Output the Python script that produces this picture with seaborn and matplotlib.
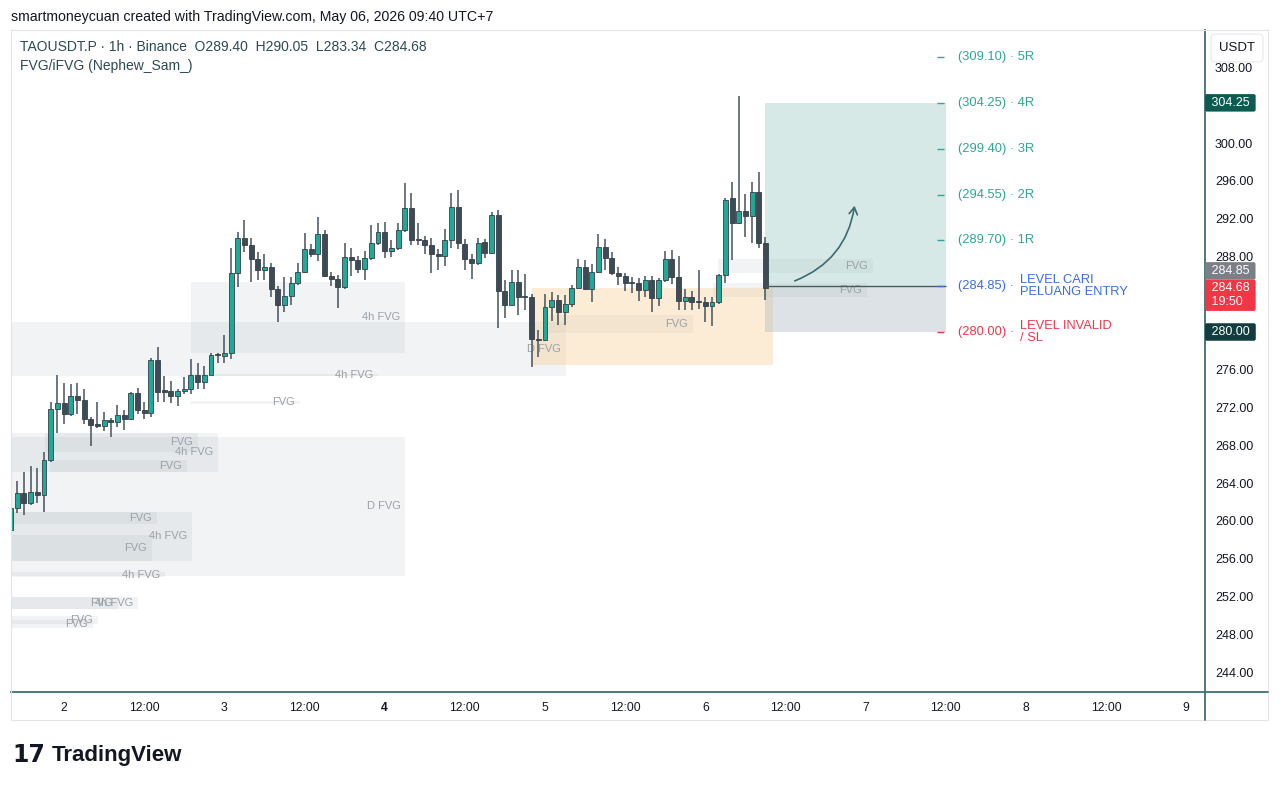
import numpy as np
import pandas as pd
import matplotlib
matplotlib.use("Agg")
import matplotlib.pyplot as plt
from matplotlib.patches import Rectangle, FancyArrowPatch
from matplotlib.lines import Line2D
import seaborn as sns

# 1h candles, hour 0 = May 2 00:00 (UTC+7)
hours = list(range(-8, 106))
opens = [259.0, 261.35, 263.0, 261.9, 263.1, 262.7, 266.5, 271.9, 272.5, 271.3,
         273.2, 272.8, 270.8, 270.2, 270.1, 270.7, 270.5, 271.2, 270.8, 273.5,
         271.75, 271.4, 277.0, 273.9, 273.8, 273.26, 273.75, 273.95, 275.45, 274.75,
         275.5, 277.6, 277.5, 277.75, 286.2, 289.9, 289.2, 287.7, 286.6, 286.9,
         284.6, 282.9, 283.8, 285.15, 286.3, 288.75, 288.25, 290.35, 285.9, 285.6,
         284.8, 287.9, 287.6, 286.7, 287.8, 289.45, 290.6, 288.6, 288.9, 290.8,
         293.1, 289.8, 289.7, 289.2, 288.3, 288.0, 289.7, 293.2, 289.3, 287.7,
         287.35, 289.55, 288.4, 292.4, 284.3, 282.85, 285.3, 283.7, 283.7, 279.3,
         279.1, 282.6, 283.4, 282.15, 282.96, 284.7, 286.9, 284.6, 286.3, 288.95,
         287.8, 286.2, 285.9, 285.2, 285.2, 284.45, 285.5, 283.55, 285.5, 287.7,
         285.85, 283.3, 283.7, 283.25, 283.2, 282.7, 283.2, 286.0, 294.15, 291.5,
         292.8, 292.3, 294.8, 289.40]
highs = [262.0, 264.2, 265.15, 265.8, 265.6, 267.3, 272.6, 275.45, 274.6, 274.5,
         274.6, 274.0, 271.0, 272.6, 271.5, 270.9, 272.3, 271.7, 273.7, 274.1,
         272.6, 277.2, 278.45, 275.3, 274.85, 274.0, 275.2, 277.1, 276.75, 276.4,
         277.75, 277.8, 279.7, 288.85, 290.6, 291.9, 289.9, 288.5, 288.25, 287.3,
         284.85, 285.8, 285.8, 287.3, 290.45, 289.3, 292.2, 290.8, 286.3, 286.0,
         289.45, 288.9, 288.0, 288.6, 291.3, 291.5, 291.6, 289.7, 291.55, 295.8,
         294.7, 291.55, 290.2, 289.9, 288.8, 290.85, 294.75, 295.0, 289.8, 288.3,
         290.0, 289.8, 292.65, 292.9, 285.5, 286.6, 286.6, 286.1, 284.0, 280.2,
         284.0, 284.2, 283.9, 283.9, 285.0, 287.7, 287.6, 287.2, 290.4, 289.8,
         288.5, 286.9, 286.2, 285.8, 285.7, 285.9, 285.9, 285.7, 288.6, 288.7,
         288.0, 284.5, 284.3, 286.55, 283.7, 283.7, 286.1, 294.2, 295.9, 305.0,
         294.6, 295.9, 296.9, 290.05]
lows = [258.5, 260.8, 260.6, 261.7, 261.9, 261.0, 266.2, 269.3, 270.3, 271.1,
        271.3, 270.3, 267.9, 269.8, 269.5, 268.9, 269.9, 269.6, 270.7, 271.3,
        270.8, 271.0, 272.6, 272.6, 272.45, 272.2, 273.4, 273.4, 274.0, 274.0,
        275.45, 276.75, 276.7, 277.1, 284.8, 288.5, 285.3, 285.5, 285.5, 283.7,
        281.1, 282.15, 282.85, 285.0, 286.2, 287.9, 287.5, 285.8, 284.85, 282.5,
        284.5, 285.9, 286.2, 285.5, 287.6, 289.2, 287.8, 287.9, 288.7, 290.6,
        289.2, 289.2, 288.3, 286.2, 286.55, 286.95, 288.9, 288.8, 286.6, 285.6,
        287.1, 287.8, 288.3, 280.4, 281.45, 282.7, 281.8, 282.3, 276.3, 277.4,
        279.0, 281.2, 280.7, 280.7, 282.6, 284.6, 284.45, 283.2, 286.2, 286.6,
        286.0, 284.97, 284.3, 284.1, 283.3, 283.7, 282.15, 282.8, 285.3, 285.1,
        282.3, 282.3, 282.3, 282.4, 281.1, 280.6, 283.0, 285.15, 287.6, 291.4,
        290.1, 289.4, 288.85, 283.34]
closes = [261.4, 263.0, 261.9, 263.1, 262.7, 266.5, 271.9, 272.5, 271.3, 273.2,
          272.8, 270.8, 270.2, 270.1, 270.7, 270.5, 271.2, 270.8, 273.5, 271.75,
          271.4, 277.0, 273.7, 273.6, 273.26, 273.75, 273.95, 275.45, 274.75, 275.45,
          277.6, 277.55, 277.75, 286.2, 289.9, 289.2, 287.7, 286.6, 286.9, 284.6,
          282.9, 283.8, 285.15, 286.3, 288.75, 288.25, 290.35, 285.9, 285.6, 284.8,
          287.9, 287.6, 286.7, 287.8, 289.45, 290.6, 288.6, 288.9, 290.8, 293.1,
          289.7, 289.7, 289.2, 288.3, 288.0, 289.7, 293.2, 289.4, 287.7, 287.35,
          289.45, 288.4, 292.4, 284.3, 282.85, 285.3, 283.7, 283.7, 279.3, 279.1,
          282.6, 283.4, 282.15, 282.96, 284.7, 286.9, 284.6, 286.3, 288.95, 287.8,
          286.2, 285.9, 285.2, 285.2, 284.45, 285.5, 283.55, 285.5, 287.7, 285.85,
          283.3, 283.7, 283.2, 283.2, 282.7, 283.2, 286.0, 294.0, 291.5, 292.8,
          292.3, 294.8, 289.4, 284.68]

# FVG zones (start hour, end hour, low, high, label)
fvg_start = [19.0, -8, 18.9, 18.9, -2.8, -8, -2.1, -8, -8, -8, -8, -8, -8, -8, -8, -8, 72.3, 97.9, 97.2]
fvg_end = [51.1, 75.2, 47.0, 35.3, 20.1, 23.1, 18.4, 51.1, 13.9, 19.2, 13.2, 15.1, 11.1, 8.1, 5.1, 4.3, 94.2, 121.1, 120.2]
fvg_low = [277.78, 275.34, 275.29, 272.43, 267.30, 265.19, 265.19, 254.18, 259.68, 255.77, 255.77, 254.07,
           250.69, 250.69, 249.10, 248.68, 279.89, 286.24, 283.70]
fvg_high = [285.29, 281.06, 275.56, 272.70, 269.31, 269.31, 266.46, 268.89, 260.95, 260.95, 258.52, 254.60,
            251.96, 251.96, 249.95, 249.52, 281.80, 287.72, 285.19]
fvg_label = ["4h FVG", "D FVG", "4h FVG", "FVG", "FVG", "4h FVG", "FVG", "D FVG", "FVG", "4h FVG", "FVG",
             "4h FVG", "4h FVG", "FVG", "FVG", "FVG", "FVG", "FVG", "FVG"]

# daily zone (orange)
dzone = [70.1, 106.2, 276.5, 284.66]

# trade setup
entry_price = 284.85
stop_price = 280.00
target_price = 304.25
setup_start, setup_end = 105.0, 132.0
r_prices = [309.10, 304.25, 299.40, 294.55, 289.70]
r_names = ["5R", "4R", "3R", "2R", "1R"]

x_ticks = list(range(0, 169, 12))
x_labels = ["2", "12:00", "3", "12:00", "4", "12:00", "5", "12:00", "6", "12:00", "7", "12:00", "8", "12:00", "9"]
y_ticks = list(range(244, 309, 4))
y_hidden = [280, 284, 304]  # covered by the price tags

sns.set_theme(style="white")
plt.rcParams["font.family"] = ["Liberation Sans", "DejaVu Sans"]

W, H = 1280, 788
fig = plt.figure(figsize=(12.8, 7.88), dpi=100)
ax = fig.add_axes([11 / W, 1 - 692 / H, (1205 - 11) / W, (692 - 30) / H])
ax.set_xlim(-7.94, 170.8)
ax.set_ylim(241.9, 311.96)

up_col, dn_col = "#22a896", "#3e4a56"
box_col = "#a4b0b8"
teal_txt, blue_txt, red_txt = "#2fa596", "#3a6fd8", "#e5394a"

# FVG boxes
for s, e, lo, hi, lab in zip(fvg_start, fvg_end, fvg_low, fvg_high, fvg_label):
    ax.add_patch(Rectangle((s, lo), e - s, hi - lo, fc=box_col, ec="none", alpha=0.15, zorder=1))
    ax.text(e - 0.75, (lo + hi) / 2, lab, ha="right", va="center", fontsize=8, color="#9aa1a8", zorder=2)

ax.add_patch(Rectangle((dzone[0], dzone[2]), dzone[1] - dzone[0], dzone[3] - dzone[2],
                       fc="#f7c98b", ec="none", alpha=0.35, zorder=1))

# risk / reward boxes
ax.add_patch(Rectangle((setup_start, entry_price), setup_end - setup_start, target_price - entry_price,
                       fc="#9cc9c1", ec="none", alpha=0.4, zorder=1))
ax.add_patch(Rectangle((setup_start, stop_price), setup_end - setup_start, entry_price - stop_price,
                       fc="#a9b8bf", ec="none", alpha=0.4, zorder=1))
ax.hlines(entry_price, setup_start, setup_end, color="#4a5a63", lw=1.0, zorder=5)

# candles
df = pd.DataFrame({"hour": hours, "open": opens, "high": highs, "low": lows, "close": closes})
up = df["close"] >= df["open"]
body_lo = df[["open", "close"]].min(axis=1)
body_h = (df["close"] - df["open"]).abs().clip(lower=0.12)
ax.vlines(df["hour"], df["low"], df["high"], color="#46515b", lw=1.1, zorder=3)
ax.bar(df["hour"], body_h, bottom=body_lo, width=0.74, color=np.where(up, up_col, dn_col),
       edgecolor="#34414a", linewidth=0.6, zorder=4)

# curved arrow
ax.add_patch(FancyArrowPatch((109.0, 285.3), (118.4, 293.65), connectionstyle="arc3,rad=0.3",
                             arrowstyle="->,head_length=5,head_width=3", color="#3c6a70", lw=1.2, zorder=6))

# level labels
for p, n in zip(r_prices, r_names):
    ax.hlines(p, 130.7, 131.8, color=teal_txt, lw=1.0, zorder=5)
    ax.text(133.85, p, f"({p:.2f}) · {n}", ha="left", va="center", fontsize=9.3, color=teal_txt)
ax.hlines(entry_price, 130.7, 131.8, color=blue_txt, lw=1.0, zorder=5)
ax.text(133.85, entry_price, f"({entry_price:.2f}) ·", ha="left", va="center", fontsize=9.3, color=blue_txt)
ax.text(143.1, entry_price, "LEVEL CARI\nPELUANG ENTRY", ha="left", va="center", fontsize=9.3,
        color=blue_txt, linespacing=0.95)
ax.hlines(stop_price, 130.7, 131.8, color=red_txt, lw=1.0, zorder=5)
ax.text(133.85, stop_price, f"({stop_price:.2f}) ·", ha="left", va="center", fontsize=9.3, color=red_txt)
ax.text(143.1, stop_price, "LEVEL INVALID\n/ SL", ha="left", va="center", fontsize=9.3,
        color=red_txt, linespacing=0.95)

# axes styling
for sp in ["top", "left"]:
    ax.spines[sp].set_visible(False)
for sp in ["right", "bottom"]:
    ax.spines[sp].set_color("#3f6e73")
    ax.spines[sp].set_linewidth(1.3)
ax.set_xticks(x_ticks)
ax.set_xticklabels(x_labels)
for t, lab in zip(ax.get_xticklabels(), x_labels):
    if lab == "4":
        t.set_fontweight("bold")
ax.tick_params(axis="x", length=0, pad=7, labelsize=8.7, colors="#131722")
ax.yaxis.tick_right()
ax.set_yticks(y_ticks)
ax.set_yticklabels(["" if v in y_hidden else f"{v:.2f}" for v in y_ticks])
ax.tick_params(axis="y", length=0, pad=7.2, labelsize=9, colors="#131722")
ax.grid(False)

# price tags on the scale
ytr = ax.get_yaxis_transform()
tags = [(target_price, " 304.25 ", "#0c5b50", 0), (stop_price, " 280.00 ", "#123c3d", 0),
        (entry_price, " 284.85 ", "#7b7f87", 11.0), (closes[-1], " 284.68 \n 19:50", "#f23645", -5.4)]
for p, s, c, dy in tags:
    ax.annotate(s, xy=(1, p), xycoords=ytr, xytext=(2, dy), textcoords="offset points",
                ha="left", va="center", fontsize=9, color="white", linespacing=1.2,
                bbox=dict(boxstyle="round,pad=0.22,rounding_size=0.15", fc=c, ec="none"),
                annotation_clip=False, zorder=10)

# frame lines
fig.add_artist(Rectangle((11 / W, 1 - 720 / H), (1268 - 11) / W, (720 - 30) / H, transform=fig.transFigure,
                         fill=False, ec="#e4e4e4", lw=0.8))
fig.add_artist(Line2D([1205 / W, 1268 / W], [1 - 692 / H, 1 - 692 / H], transform=fig.transFigure,
                      color="#3f6e73", lw=1.3))
fig.add_artist(Line2D([1205 / W, 1205 / W], [1 - 692 / H, 1 - 720 / H], transform=fig.transFigure,
                      color="#3f6e73", lw=1.3))

# header / legend
fig.text(11 / W, 1 - 17 / H, "smartmoneycuan created with TradingView.com, May 06, 2026 09:40 UTC+7",
         ha="left", va="center", fontsize=10.2, color="#131722")
fig.text(20 / W, 1 - 47 / H, "TAOUSDT.P · 1h · Binance  O289.40  H290.05  L283.34  C284.68",
         ha="left", va="center", fontsize=10, color="#2d4a53")
fig.text(20 / W, 1 - 66 / H, "FVG/iFVG (Nephew_Sam_)", ha="left", va="center", fontsize=10, color="#2d4a53")
fig.text(1237 / W, 1 - 48 / H, "USDT", ha="center", va="center", fontsize=9.5, color="#131722", zorder=20,
         bbox=dict(boxstyle="round,pad=0.6,rounding_size=0.3", fc="white", ec="#ececec"))

# TradingView logo
fig.text(12 / W, 1 - 755 / H, "17", ha="left", va="center", fontsize=17, fontweight="heavy",
         color="#131722", family="DejaVu Sans")
fig.text(52 / W, 1 - 755 / H, "TradingView", ha="left", va="center", fontsize=16, fontweight="bold",
         color="#131722")

fig.savefig("out.png", dpi=100, facecolor="white")
